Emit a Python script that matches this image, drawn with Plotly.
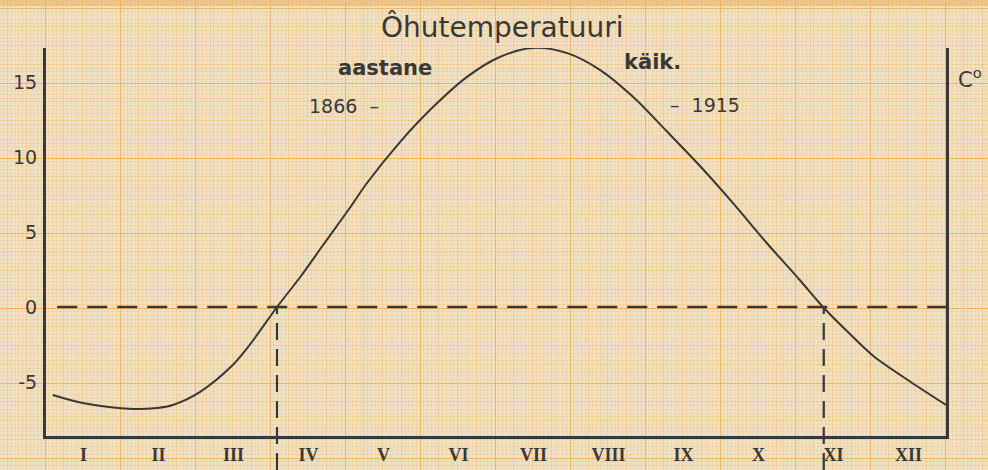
import plotly.graph_objects as go

# annual course of air temperature (month fraction, deg C)
months = [0.09, 0.49, 1.16, 1.48, 1.69, 2.05, 2.49, 2.72, 3.08, 3.39, 3.69,
          4.05, 4.28, 4.72, 5.16, 5.61, 6.05, 6.49, 6.95, 7.39, 7.83, 8.28,
          8.72, 9.16, 9.61, 10.05, 10.36, 10.76, 11.04, 11.53, 12.0]
temps = [-5.87, -6.4, -6.8, -6.73, -6.53, -5.67, -3.87, -2.5, 0.0, 2.0, 4.1,
         6.6, 8.27, 11.0, 13.33, 15.33, 16.67, 17.27, 16.93, 15.8, 14.0, 11.7,
         9.4, 6.93, 4.27, 1.8, 0.0, -2.0, -3.3, -5.0, -6.53]
zero_crossings = [3.08, 10.37]

month_labels = ["I", "II", "III", "IV", "V", "VI", "VII", "VIII", "IX", "X", "XI", "XII"]
temp_ticks = [-5, 0, 5, 10, 15]
temp_labels = ["-5", "0", "5", "10", "15"]

W, H = 988, 470
PAPER = "#f1e1c4"
INK = "#3a3836"
FINE = "rgba(236,188,110,0.28)"
MEDIUM = "rgba(234,182,98,0.42)"
BOLD = "rgba(230,175,85,0.7)"

y_min, y_max = -8.6, 17.27
x_dom = [46 / W, 946 / W]
y_dom = [34 / H, 422 / H]

fig = go.Figure()

# graph paper: two full-page grid subplots underneath the chart
fig.add_trace(go.Scatter(x=[], y=[], xaxis="x", yaxis="y", showlegend=False))
fig.add_trace(go.Scatter(x=[], y=[], xaxis="x2", yaxis="y2", showlegend=False))

fig.add_trace(go.Scatter(
    x=months, y=temps, xaxis="x3", yaxis="y3", mode="lines",
    line=dict(color=INK, width=2, shape="spline", smoothing=0.9),
    showlegend=False, hoverinfo="skip",
))

grid_common = dict(domain=[0, 1], showticklabels=False, zeroline=False,
                   showline=False, ticks="", fixedrange=True)

fig.update_layout(
    width=W, height=H,
    margin=dict(l=0, r=0, t=0, b=0),
    paper_bgcolor=PAPER,
    plot_bgcolor="rgba(0,0,0,0)",
    xaxis=dict(range=[0, W], tick0=45, dtick=18.75, showgrid=True,
               gridcolor=MEDIUM, gridwidth=1, anchor="y",
               minor=dict(tick0=45, dtick=3.75, showgrid=True,
                          gridcolor=FINE, gridwidth=0.7), **grid_common),
    yaxis=dict(range=[H, 0], tick0=8, dtick=18.75, showgrid=True,
               gridcolor=MEDIUM, gridwidth=1, anchor="x",
               minor=dict(tick0=8, dtick=3.75, showgrid=True,
                          gridcolor=FINE, gridwidth=0.7), **grid_common),
    xaxis2=dict(range=[0, W], tick0=45, dtick=75, showgrid=True,
                gridcolor=BOLD, gridwidth=1.4, anchor="y2", **grid_common),
    yaxis2=dict(range=[H, 0], tick0=8, dtick=75, showgrid=True,
                gridcolor=BOLD, gridwidth=1.4, anchor="x2", **grid_common),
    xaxis3=dict(domain=x_dom, range=[0, 12], anchor="y3",
                tickvals=[i + 0.5 for i in range(12)],
                ticktext=[f"<b>{m}</b>" for m in month_labels],
                tickfont=dict(family="Liberation Serif", size=18, color=INK),
                ticks="", ticklabelstandoff=0,
                showline=True, linecolor=INK, linewidth=3,
                showgrid=False, zeroline=False, fixedrange=True),
    yaxis3=dict(domain=y_dom, range=[y_min, y_max], anchor="x3",
                tickvals=temp_ticks, ticktext=temp_labels,
                tickfont=dict(family="DejaVu Sans", size=19, color=INK),
                ticks="", ticklabelstandoff=2,
                showline=True, mirror=True, linecolor=INK, linewidth=3,
                showgrid=False, zeroline=False, fixedrange=True),
)

# dashed zero line and the dates where temperature crosses zero
zero_paper = y_dom[0] + (0 - y_min) / (y_max - y_min) * (y_dom[1] - y_dom[0])
shapes = [dict(type="line", xref="x3", yref="y3", x0=0.15, x1=12, y0=0, y1=0,
               line=dict(color=INK, width=2.5, dash="20px,10px"), layer="above")]
for xc in zero_crossings:
    shapes.append(dict(type="line", xref="x3", yref="paper", x0=xc, x1=xc,
                       y0=0, y1=zero_paper,
                       line=dict(color=INK, width=2.2, dash="17px,9px"),
                       layer="above"))
# scanned top edge of the sheet
shapes.append(dict(type="rect", xref="paper", yref="paper", x0=0, x1=1,
                   y0=1 - 6 / H, y1=1, line=dict(width=0),
                   fillcolor="rgba(232,180,100,0.6)", layer="above"))
fig.update_layout(shapes=shapes)


def note(text, px, py, size, bold=False):
    fig.add_annotation(
        text=f"<b>{text}</b>" if bold else text,
        x=px / W, y=1 - py / H, xref="paper", yref="paper",
        showarrow=False, xanchor="center", yanchor="middle",
        font=dict(family="DejaVu Sans", size=size, color=INK),
    )


note("Ôhutemperatuuri", 502, 27, 28)
note("aastane", 385, 68, 21, bold=True)
note("käik.", 652, 62, 21, bold=True)
note("1866  –", 344, 106, 19)
note("–  1915", 705, 105, 19)
note("C<sup>o</sup>", 970, 78, 21)

fig.write_html("out.html", config={"displayModeBar": False},
               post_script="document.body.style.margin='0';"
                           "document.body.style.overflow='hidden';")
